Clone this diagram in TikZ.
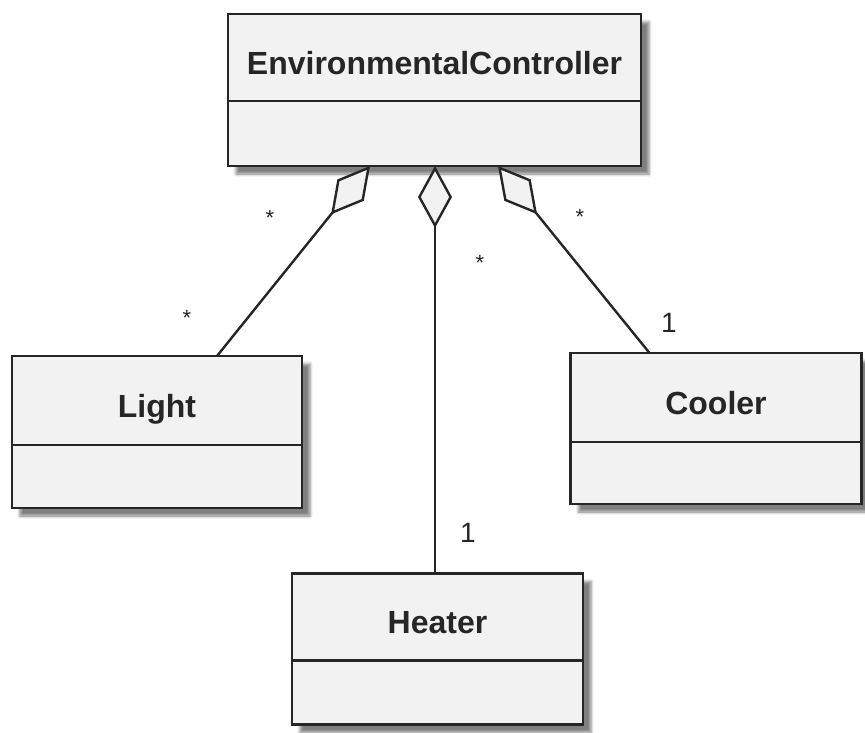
\documentclass[tikz,border=0pt]{standalone}
\usepackage{fontspec}
\setmainfont{Liberation Sans}
\usetikzlibrary{arrows.meta,shadows.blur,calc}

\definecolor{boxfill}{HTML}{F2F2F2}
\definecolor{edge}{HTML}{262626}

\tikzset{
  classbox/.style={draw=edge, fill=boxfill, line width=2.7pt, rectangle,
    inner sep=0pt, outer sep=0pt,
    blur shadow={shadow xshift=8pt, shadow yshift=-8pt,
                 shadow blur radius=3pt, shadow opacity=50}},
  classname/.style={font=\bfseries\fontsize{32}{38}\selectfont, text=edge, inner sep=0pt},
  divider/.style={draw=edge, line width=2.5pt},
  assoc/.style={draw=edge, line width=2.4pt, line join=miter,
    -{Diamond[length=62pt, width=34pt, fill=boxfill, line width=2.4pt]}},
  mult/.style={font=\fontsize{28}{32}\selectfont, text=edge, inner sep=0pt},
  star/.style={font=\fontsize{22}{26}\selectfont, text=edge, inner sep=0pt}
}

\begin{document}
\begin{tikzpicture}[x=1pt, y=-1pt]
  \useasboundingbox (0,0) rectangle (865,733);

  % class boxes (centre, size)
  \node[classbox, minimum width=413pt, minimum height=152pt] (ec)     at (434.5, 90) {};
  \node[classbox, minimum width=290pt, minimum height=152pt] (light)  at (157, 432) {};
  \node[classbox, minimum width=291pt, minimum height=151pt] (cooler) at (716, 428.5) {};
  \node[classbox, minimum width=291pt, minimum height=151pt] (heater) at (437.5, 649) {};

  % compartment dividers
  \draw[divider] ($(ec.north west)+(0,87)$) -- ($(ec.north east)+(0,87)$);
  \draw[divider] ($(light.north west)+(0,89)$) -- ($(light.north east)+(0,89)$);
  \draw[divider] ($(cooler.north west)+(0,89)$) -- ($(cooler.north east)+(0,89)$);
  \draw[divider] ($(heater.north west)+(0,87)$) -- ($(heater.north east)+(0,87)$);

  % class names
  \node[classname] (ecname)     at ($(ec.north)+(0,49)$)     {EnvironmentalController};
  \node[classname] (lightname)  at ($(light.north)+(0,53)$)  {Light};
  \node[classname] (coolername) at ($(cooler.north)+(0,50)$) {Cooler};
  \node[classname] (heatername) at ($(heater.north)+(0,49)$) {Heater};

  % attachment points on the box borders
  \coordinate (ecL) at ($(ec.south west)+(142,0)$);
  \coordinate (ecM) at ($(ec.south west)+(207,0)$);
  \coordinate (ecR) at ($(ec.south west)+(270,0)$);
  \coordinate (lightT)  at ($(light.north west)+(205,0)$);
  \coordinate (coolerT) at ($(cooler.north west)+(79,0)$);
  \coordinate (heaterT) at ($(heater.north west)+(143,0)$);

  % aggregations
  \draw[assoc] (lightT)  -- (ecL);
  \draw[assoc] (heaterT) -- (ecM);
  \draw[assoc] (coolerT) -- (ecR);

  % multiplicities
  \node[star] (m1) at (270, 218) {*};
  \node[star] (m2) at (187, 318) {*};
  \node[star] (m3) at (480, 263) {*};
  \node[star] (m4) at (580, 217) {*};
  \node[mult] (m5) at (669, 323) {1};
  \node[mult] (m6) at (468, 533) {1};
\end{tikzpicture}
\end{document}
